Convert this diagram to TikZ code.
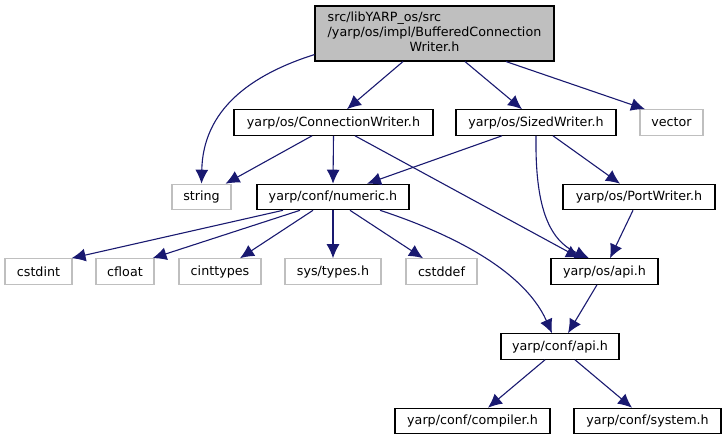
\documentclass[tikz,border=0pt]{standalone}
\usepackage{fontspec}
\setmainfont{DejaVu Sans}
\usepackage{tikz}
\usepackage{xcolor}
\usetikzlibrary{arrows.meta,calc,positioning}
\definecolor{edgeblue}{HTML}{191970}
\definecolor{boxgrey}{HTML}{BFBFBF}
\tikzset{%
	header/.style = {draw=black, line width=1.1pt, rectangle, minimum height=25.5pt, inner sep=0pt, text centered, font=\fontsize{12.7}{15}\selectfont},
	extern/.style = {header, draw=boxgrey},
	source/.style = {header, fill=boxgrey, minimum height=55pt},
	incl/.style   = {draw=edgeblue, line width=1.1pt, -{Latex[length=14pt,width=13pt]}},
}

\begin{document}
\begin{tikzpicture}[x=1pt,y=-1pt]
	\useasboundingbox (0,0) rectangle (727,440);
	% include files
	\node (src) at (434.5,33.5) [source, minimum width=239pt] {\begin{tabular}{@{}l@{}}src/libYARP\_os/src\\/yarp/os/impl/BufferedConnection\\\multicolumn{1}{@{}c@{}}{Writer.h}\end{tabular}};
	\node (conn) at (333.5,122.5) [header, minimum width=199pt] {yarp/os/ConnectionWriter.h};
	\node (sized) at (536,122.5) [header, minimum width=160pt] {yarp/os/SizedWriter.h};
	\node (vector) at (671.5,122.5) [extern, minimum width=63pt] {vector};
	\node (string) at (201.5,197) [extern, minimum width=59pt] {string};
	\node (numeric) at (333,197) [header, minimum width=152pt] {yarp/conf/numeric.h};
	\node (portw) at (639,197) [header, minimum width=152pt] {yarp/os/PortWriter.h};
	\node (cstdint) at (38.5,271.5) [extern, minimum width=67pt] {cstdint};
	\node (cfloat) at (125,271.5) [extern, minimum width=58pt] {cfloat};
	\node (cinttypes) at (220,271.5) [extern, minimum width=82pt] {cinttypes};
	\node (systypes) at (333,271.5) [extern, minimum width=96pt] {sys/types.h};
	\node (cstddef) at (441.5,271.5) [extern, minimum width=71pt] {cstddef};
	\node (osapi) at (604.5,271.5) [header, minimum width=107pt] {yarp/os/api.h};
	\node (confapi) at (560,346.5) [header, minimum width=118pt] {yarp/conf/api.h};
	\node (compiler) at (472.5,421) [header, minimum width=155pt] {yarp/conf/compiler.h};
	\node (system) at (647.5,421) [header, minimum width=147pt] {yarp/conf/system.h};
	% dependencies
	\draw[incl] ([yshift=7pt]src.south west) .. controls (250,75) and (203,110) .. (string.north);
	\draw[incl] ([xshift=-31.5pt]src.south) -- ([xshift=13.5pt]conn.north);
	\draw[incl] ([xshift=30.5pt]src.south) -- ([xshift=-14pt]sized.north);
	\draw[incl] ([xshift=71.5pt]src.south) -- ([xshift=-26.5pt]vector.north);
	\draw[incl] ([xshift=-21.5pt]conn.south) -- ([xshift=-6pt]string.north east);
	\draw[incl] (conn.south) -- (numeric.north);
	\draw[incl] ([xshift=21.5pt]conn.south) -- ([xshift=-24.5pt]osapi.north);
	\draw[incl] ([xshift=-34pt]sized.south) -- ([xshift=34pt]numeric.north);
	\draw[incl] (sized.south) .. controls (535,205) and (548,240) .. ([xshift=-15.5pt]osapi.north);
	\draw[incl] ([xshift=17pt]sized.south) -- ([xshift=-19pt]portw.north);
	\draw[incl] ([xshift=-6pt]portw.south) -- ([xshift=5.5pt]osapi.north);
	\draw[incl] ([xshift=-50pt]numeric.south) -- ([xshift=-1pt]cstdint.north east);
	\draw[incl] ([xshift=-33pt]numeric.south) -- ([xshift=-2pt]cfloat.north east);
	\draw[incl] ([xshift=-20pt]numeric.south) -- ([xshift=20pt]cinttypes.north);
	\draw[incl] (numeric.south) -- (systypes.north);
	\draw[incl] ([xshift=17pt]numeric.south) -- ([xshift=-18.5pt]cstddef.north);
	\draw[incl] ([xshift=47pt]numeric.south) .. controls (440,230) and (522,266) .. ([xshift=-8pt]confapi.north);
	\draw[incl] ([xshift=-7.5pt]osapi.south) -- ([xshift=8pt]confapi.north);
	\draw[incl] ([xshift=-15pt]confapi.south) -- ([xshift=15.5pt]compiler.north);
	\draw[incl] ([xshift=15pt]confapi.south) -- ([xshift=-15.5pt]system.north);
\end{tikzpicture}
\end{document}
